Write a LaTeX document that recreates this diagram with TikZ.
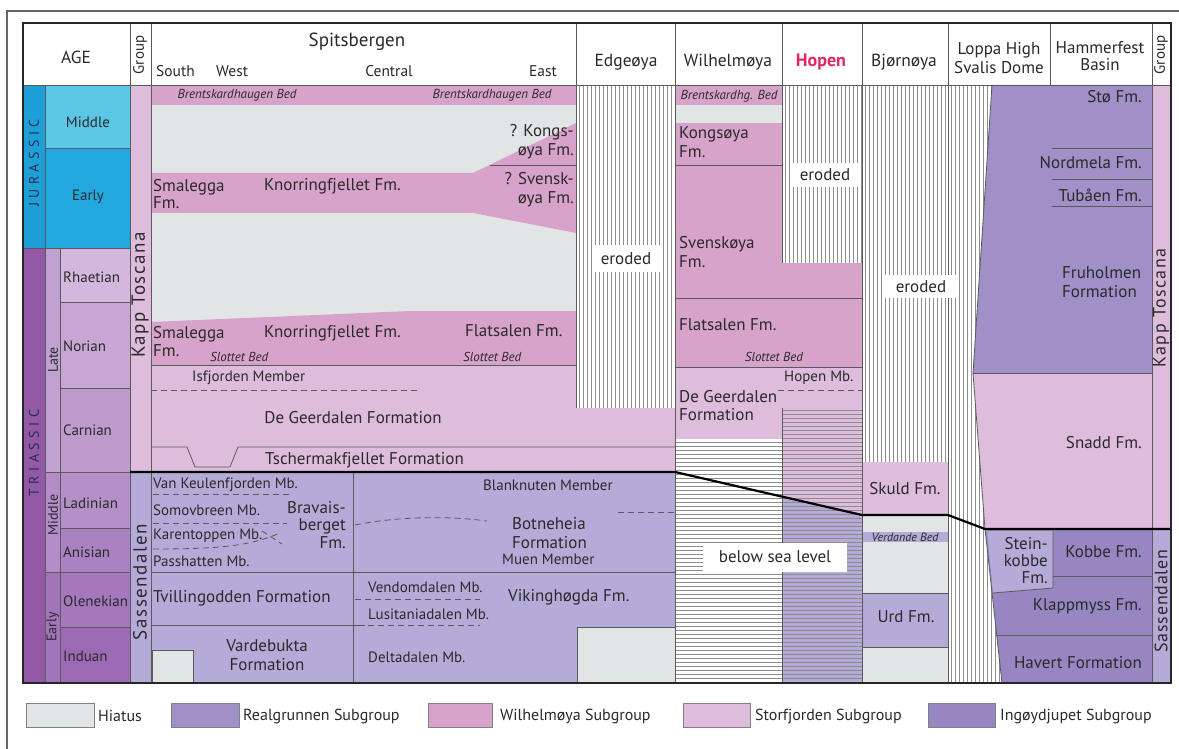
\documentclass[tikz,border=0pt]{standalone}
\usepackage{fontspec}
\setmainfont{PT Sans}
\definecolor{hiatus}{HTML}{E2E5E5}
\definecolor{realg}{HTML}{A18FC8}
\definecolor{wilh}{HTML}{D8A3CA}
\definecolor{storf}{HTML}{DEBCDC}
\definecolor{ingoy}{HTML}{9886C3}
\definecolor{sass}{HTML}{B5ABD8}
\definecolor{jurP}{HTML}{1E9FD7}
\definecolor{jurM}{HTML}{5CC6E6}
\definecolor{jurE}{HTML}{22A8DF}
\definecolor{triP}{HTML}{9358A6}
\definecolor{lateE}{HTML}{C0A1D1}
\definecolor{midE}{HTML}{B48CC7}
\definecolor{earlyE}{HTML}{A274BA}
\definecolor{rhae}{HTML}{D4B7DD}
\definecolor{nori}{HTML}{C7A6D4}
\definecolor{carn}{HTML}{BE9ACD}
\definecolor{ladi}{HTML}{B590C8}
\definecolor{anis}{HTML}{AB82C1}
\definecolor{olen}{HTML}{A577BD}
\definecolor{indu}{HTML}{9C69B4}
\definecolor{txt}{HTML}{2A2A2A}
\definecolor{perT}{HTML}{22304F}
\definecolor{lnc}{HTML}{5A5A5A}
\definecolor{hopenred}{HTML}{E3265F}
\definecolor{stripe}{HTML}{8C8C8C}
\tikzset{
 fm/.style={font=\fontsize{17}{19}\selectfont, text=txt, inner sep=0pt},
 mb/.style={font=\fontsize{15}{17}\selectfont, text=txt, inner sep=0pt},
 st/.style={font=\fontsize{15}{17}\selectfont, text=txt, inner sep=0pt},
 bed/.style={font=\fontsize{13}{15}\selectfont\itshape, text=txt, inner sep=0pt},
 hd/.style={font=\fontsize{17.5}{20}\selectfont, text=txt, inner sep=0pt},
 sub/.style={font=\fontsize{15.5}{18}\selectfont, text=txt, inner sep=0pt},
 grp/.style={font=\fontsize{19}{21}\selectfont\addfontfeature{LetterSpace=8}, text=txt, inner sep=0pt, rotate=90},
 lg/.style={font=\fontsize{16}{18}\selectfont, text=txt, inner sep=0pt, anchor=west},
 ln/.style={draw=lnc, line width=0.8pt},
 dsh/.style={draw=lnc, line width=0.8pt, dash pattern=on 6pt off 4pt},
 bnd/.style={draw=black, line width=2.2pt},
 vs/.style={draw=stripe, line width=0.9pt},
 wbox/.style={fill=white, draw=none},
 lgbox/.style={draw=gray, line width=0.8pt},
}
\begin{document}
\begin{tikzpicture}[x=1pt,y=-1pt]
\useasboundingbox (0,0) rectangle (1179,749);
\fill[white] (0,0) rectangle (1179,749);
\begin{scope}
\clip (0,0) rectangle (1179,749);
\draw[gray!80!black, line width=1.3pt] (7,11) rectangle (1190,760);
\end{scope}

% ---------- AGE column ----------
\fill[jurP] (23,85) rectangle (45,248);
\fill[jurM] (45,85) rectangle (130,148);
\fill[jurE] (45,148) rectangle (130,248);
\fill[triP] (23,248) rectangle (45,683);
\fill[lateE] (45,248) rectangle (60,472);
\fill[midE] (45,472) rectangle (60,572);
\fill[earlyE] (45,572) rectangle (60,683);
\fill[rhae] (60,248) rectangle (130,302);
\fill[nori] (60,302) rectangle (130,388);
\fill[carn] (60,388) rectangle (130,472);
\fill[ladi] (60,472) rectangle (130,528);
\fill[anis] (60,528) rectangle (130,572);
\fill[olen] (60,572) rectangle (130,627);
\fill[indu] (60,627) rectangle (130,683);
\fill[storf] (130,85) rectangle (151,472);
\fill[sass] (130,472) rectangle (151,683);

% ---------- Spitsbergen ----------
\fill[hiatus] (151,85) rectangle (576,365);
\fill[wilh] (151,85) rectangle (576,105);
\fill[wilh] (151,173) -- (473,173) -- (576,123) -- (576,233) -- (473,213) -- (151,213) -- cycle;
\fill[wilh] (151,322) -- (410,311) -- (576,311) -- (576,365) -- (151,365) -- cycle;
\fill[storf] (151,365) rectangle (675,472);
\fill[sass] (151,472) rectangle (675,683);
\fill[hiatus] (152,650) rectangle (193,683);
\draw[ln] (152,683) -- (152,650) -- (193,650) -- (193,683);
\fill[hiatus] (577,627) rectangle (675,683);
\draw[ln] (577,683) -- (577,627) -- (675,627);

% ---------- Edgeoya ----------
\fill[white] (576,85) rectangle (675,408);
\foreach \x in {579,583,...,675} \draw[vs] (\x,85) -- (\x,408);

% ---------- Wilhelmoya / Hopen ----------
\fill[wilh] (675,85) rectangle (782,105);
\fill[hiatus] (675,105) rectangle (782,123);
\fill[wilh] (675,123) rectangle (862,367);
\fill[storf] (675,367) rectangle (862,439);
\fill[white] (675,439) rectangle (782,683);
\fill[white] (782,85) rectangle (862,263);
\foreach \x in {785,789,...,862} \draw[vs] (\x,85) -- (\x,263);
\fill[storf] (782,408) -- (862,408) -- (862,515) -- (782,496.6) -- cycle;
\fill[sass] (782,496.6) -- (862,515) -- (862,683) -- (782,683) -- cycle;
\foreach \y in {442,446,...,683} \draw[vs] (675,\y) -- (782,\y);
\foreach \y in {410,414,...,683} \draw[vs] (782,\y) -- (862,\y);

% ---------- Bjornoya ----------
\fill[white] (862,85) rectangle (948,462);
\foreach \x in {865,869,...,948} \draw[vs] (\x,85) -- (\x,462);
\fill[storf] (862,462) rectangle (948,515);
\fill[hiatus] (862,515) rectangle (948,683);
\fill[sass] (862,532) rectangle (948,542);
\fill[sass] (862,593) rectangle (948,647);
\draw[ln] (862,593) -- (948,593);
\draw[ln] (862,647) -- (948,647);

% ---------- Loppa High ----------
\begin{scope}
\clip (948,85) -- (992,85) -- (973,373) -- (985,529) -- (1002,683) -- (948,683) -- cycle;
\fill[white] (940,80) rectangle (1010,690);
\foreach \x in {951,955,...,1007} \draw[vs] (\x,85) -- (\x,683);
\end{scope}

% ---------- Hammerfest ----------
\fill[realg] (992,85) -- (1152,85) -- (1152,373) -- (973,373) -- cycle;
\fill[storf] (973,373) -- (1152,373) -- (1152,529) -- (985,529) -- cycle;
\fill[ingoy] (985,529) -- (1152,529) -- (1152,683) -- (1002,683) -- cycle;
\fill[sass] (987,531) -- (1053,531) -- (1053,588) -- (993,593) -- cycle;
\draw[ln] (993,593) -- (1053,588) -- (1053,531);
\draw[ln] (992,85) -- (973,373) -- (985,529) -- (1002,683);
\draw[ln] (1052,148) -- (1152,148);
\draw[ln] (1052,179) -- (1152,179);
\draw[ln] (1052,206) -- (1152,206);
\draw[ln] (973,373) -- (1152,373);
\draw[ln] (1053,576) -- (1152,576);
\draw[ln] (996,635) -- (1152,635);
\fill[storf] (1152,85) rectangle (1171,529);
\fill[sass] (1152,529) rectangle (1171,683);

% ---------- lines: age ----------
\draw[ln] (45,85) -- (45,683);
\draw[ln] (60,248) -- (60,683);
\draw[ln] (130,23) -- (130,683);
\draw[ln] (151,23) -- (151,683);
\draw[ln] (45,148) -- (130,148);
\draw[ln] (23,248) -- (130,248);
\draw[ln] (60,302) -- (130,302);
\draw[ln] (60,388) -- (130,388);
\draw[ln] (45,472) -- (130,472);
\draw[ln] (60,528) -- (130,528);
\draw[ln] (45,572) -- (130,572);
\draw[ln] (60,627) -- (130,627);

% ---------- lines: columns ----------
\draw[ln] (23,85) -- (1171,85);
\draw[ln] (576,23) -- (576,408);
\draw[ln] (675,23) -- (675,683);
\draw[ln] (782,23) -- (782,263);
\draw[ln] (782,408) -- (782,683);
\draw[ln] (862,23) -- (862,683);
\draw[ln] (948,23) -- (948,683);
\draw[ln] (1050,23) -- (1050,85);
\draw[ln] (1152,23) -- (1152,683);

% ---------- lines: Spitsbergen ----------
\draw[ln] (490,165) -- (576,165);
\draw[ln] (151,365) -- (576,365);
\draw[dsh] (151,390) -- (420,390);
\draw[ln] (151,447) -- (187,447) -- (195,467) -- (230,467) -- (238,447) -- (675,447);
\draw[dsh] (153,494) -- (290,494);
\draw[dsh] (153,523) -- (287,523);
\draw[dsh] (153,549) .. controls (220,549) and (250,546) .. (280,533);
\draw[dsh] (262,531) -- (282,544);
\draw[ln] (353,472) -- (353,683);
\draw[dsh] (355,525) .. controls (400,516) and (450,516) .. (487,521);
\draw[dsh] (618,512) -- (675,512);
\draw[ln] (151,572) -- (675,572);
\draw[dsh] (355,599) -- (480,599);
\draw[ln] (151,625) -- (365,625);
\draw[dsh] (368,625) -- (480,625);

% ---------- lines: Wilhelmoya ----------
\draw[ln] (675,165) -- (782,165);
\draw[ln] (675,298) -- (862,298);
\draw[ln] (675,367) -- (862,367);
\draw[dsh] (778,390) -- (862,390);

% ---------- thick boundary ----------
\draw[bnd] (130,472) -- (675,472) -- (862,515) -- (948,515) -- (985,529) -- (1171,529);

% ---------- white label boxes ----------
\fill[wbox] (593,245) rectangle (660,272);
\fill[wbox] (792,163) rectangle (858,187);
\fill[wbox] (885,275) rectangle (958,298);
\fill[wbox] (703,543) rectangle (847,572);

% ---------- frame ----------
\draw[line width=2.5pt, black!85] (23,23) rectangle (1171,683);

% ---------- header text ----------
\node[hd] (hAge) at (76,57) {AGE};
\node[hd, font=\fontsize{15}{17}\selectfont, rotate=90] (hGrpL) at (140,55) {Group};
\node[hd, font=\fontsize{19}{22}\selectfont] (hSpits) at (357,42) {Spitsbergen};
\node[sub, anchor=west] (hSouth) at (156,71) {South};
\node[sub, anchor=west] (hWest) at (216,71) {West};
\node[sub] (hCentral) at (389,71) {Central};
\node[sub, anchor=east] (hEast) at (557,71) {East};
\node[hd] (hEdge) at (626,62) {Edgeøya};
\node[hd] (hWilh) at (728,62) {Wilhelmøya};
\node[hd, text=hopenred, font=\fontsize{18}{20}\selectfont\bfseries] (hHopen) at (821,62) {Hopen};
\node[hd] (hBjorn) at (904,62) {Bjørnøya};
\node[hd, align=center, font=\fontsize{17}{19.5}\selectfont] (hLoppa) at (999,58) {Loppa High\\Svalis Dome};
\node[hd, align=center, font=\fontsize{17}{17.5}\selectfont] (hHammer) at (1100,56) {Hammerfest\\Basin};
\node[hd, font=\fontsize{15}{17}\selectfont, rotate=90] (hGrpR) at (1161,55) {Group};

% ---------- age text ----------
\node[hd, text=perT, font=\fontsize{14}{16}\selectfont\addfontfeature{LetterSpace=32}, rotate=90] (tJur) at (34,163) {JURASSIC};
\node[hd, text=perT, font=\fontsize{14}{16}\selectfont\addfontfeature{LetterSpace=32}, rotate=90] (tTri) at (34,453) {TRIASSIC};
\node[st] (tJM) at (88,122) {Middle};
\node[st] (tJE) at (88,197) {Early};
\node[st, font=\fontsize{14}{16}\selectfont, rotate=90] (tLate) at (53,360) {Late};
\node[st, font=\fontsize{14}{16}\selectfont, rotate=90] (tMid) at (53,515) {Middle};
\node[st, font=\fontsize{14}{16}\selectfont, rotate=90] (tEar) at (53,627) {Early};
\node[st, anchor=west] (tRh) at (63,277) {Rhaetian};
\node[st, anchor=west] (tNo) at (63,346) {Norian};
\node[st, anchor=west] (tCa) at (63,430) {Carnian};
\node[st, anchor=west] (tLa) at (63,503) {Ladinian};
\node[st, anchor=west] (tAn) at (63,552) {Anisian};
\node[st, anchor=west] (tOl) at (63,601) {Olenekian};
\node[st, anchor=west] (tIn) at (63,656) {Induan};
\node[grp] (gKT) at (140,295) {Kapp Toscana};
\node[grp] (gSD) at (140,582) {Sassendalen};
\node[grp, font=\fontsize{18}{20}\selectfont\addfontfeature{LetterSpace=8}] (gKT2) at (1161,308) {Kapp Toscana};
\node[grp, font=\fontsize{18}{20}\selectfont\addfontfeature{LetterSpace=4}] (gSD2) at (1161,601) {Sassendalen};

% ---------- Spitsbergen text ----------
\node[bed] (sBr1) at (237,95) {Brentskardhaugen Bed};
\node[bed] (sBr2) at (492,95) {Brentskardhaugen Bed};
\node[fm, anchor=west, align=left, font=\fontsize{17}{17}\selectfont] (sSm1) at (153,194) {Smalegga\\Fm.};
\node[fm, anchor=west] (sKn1) at (264,186) {Knorringfjellet Fm.};
\node[fm, anchor=east, align=right] (sKo) at (574,142) {? Kongs-\\øya Fm.};
\node[fm, anchor=east, align=right] (sSv) at (574,190) {? Svensk-\\øya Fm.};
\node[fm, anchor=west, align=left, font=\fontsize{17}{18}\selectfont] (sSm2) at (153,342) {Smalegga\\Fm.};
\node[fm, anchor=west] (sKn2) at (264,333) {Knorringfjellet Fm.};
\node[fm, anchor=west] (sFl) at (465,331) {Flatsalen Fm.};
\node[bed, anchor=west] (sSl1) at (210,357) {Slottet Bed};
\node[bed, anchor=west] (sSl2) at (463,357) {Slottet Bed};
\node[mb, anchor=west] (sIs) at (192,378) {Isfjorden Member};
\node[fm] (sDG) at (353,418) {De Geerdalen Formation};
\node[fm, anchor=west] (sTs) at (265,460) {Tschermakfjellet Formation};
\node[mb, anchor=west] (sVK) at (153,485) {Van Keulenfjorden Mb.};
\node[mb, anchor=west] (sSo) at (153,510) {Somovbreen Mb.};
\node[fm, anchor=east, align=right, font=\fontsize{17}{17.5}\selectfont] (sBv) at (346,525) {Bravais-\\berget\\Fm.};
\node[mb, anchor=west] (sKa) at (153,536) {Karentoppen Mb.};
\node[mb, anchor=west] (sPa) at (153,561) {Passhatten Mb.};
\node[fm, anchor=west] (sTv) at (153,598) {Tvillingodden Formation};
\node[fm, align=center, font=\fontsize{17}{19}\selectfont] (sVa) at (267,655) {Vardebukta\\Formation};
\node[mb, anchor=west] (sBl) at (483,485) {Blanknuten Member};
\node[fm, anchor=west, align=left, font=\fontsize{17}{19}\selectfont] (sBo) at (512,533) {Botneheia\\Formation};
\node[mb, anchor=west] (sMu) at (502,559) {Muen Member};
\node[mb, anchor=west] (sVe) at (368,587) {Vendomdalen Mb.};
\node[mb, anchor=west] (sLu) at (368,614) {Lusitaniadalen Mb.};
\node[fm, anchor=west] (sVi) at (508,597) {Vikinghøgda Fm.};
\node[mb, anchor=west] (sDe) at (368,657) {Deltadalen Mb.};

% ---------- Other columns text ----------
\node[fm] (eEr) at (626,259) {eroded};
\node[bed] (wBr) at (729,96) {Brentskardhg. Bed};
\node[fm, anchor=west, align=left, font=\fontsize{17}{19}\selectfont] (wKo) at (679,142) {Kongsøya\\Fm.};
\node[fm, anchor=west, align=left, font=\fontsize{17}{19}\selectfont] (wSv) at (679,252) {Svenskøya\\Fm.};
\node[fm, anchor=west] (wFl) at (679,325) {Flatsalen Fm.};
\node[bed] (wSl) at (774,357) {Slottet Bed};
\node[mb, anchor=west] (hMb) at (784,378) {Hopen Mb.};
\node[fm, anchor=west, align=left, font=\fontsize{17}{18}\selectfont] (wDG) at (679,406) {De Geerdalen\\Formation};
\node[fm] (hEr) at (825,175) {eroded};
\node[fm] (wBs) at (775,557) {below sea level};
\node[fm] (bEr) at (921,287) {eroded};
\node[fm] (bSk) at (905,489) {Skuld Fm.};
\node[bed, font=\fontsize{12}{14}\selectfont\itshape] (bVe) at (905,537) {Verdande Bed};
\node[fm] (bUr) at (906,617) {Urd Fm.};
\node[fm, anchor=east] (fSt) at (1142,97) {Stø Fm.};
\node[fm, anchor=east] (fNo) at (1142,163) {Nordmela Fm.};
\node[fm, anchor=east] (fTu) at (1142,195) {Tubåen Fm.};
\node[fm, anchor=west, align=left, font=\fontsize{17}{19}\selectfont] (fFr) at (1062,282) {Fruholmen\\Formation};
\node[fm, anchor=east] (fSn) at (1142,443) {Snadd Fm.};
\node[fm, anchor=east, align=right, font=\fontsize{17}{17}\selectfont] (fStk) at (1048,561) {Stein-\\kobbe\\Fm.};
\node[fm, anchor=east] (fKo) at (1142,552) {Kobbe Fm.};
\node[fm, anchor=east] (fKl) at (1142,606) {Klappmyss Fm.};
\node[fm, anchor=east] (fHa) at (1142,663) {Havert Formation};

% ---------- legend ----------
\draw[lgbox, fill=hiatus] (26,703) rectangle (94,727);
\node[lg] (lHi) at (98,716) {Hiatus};
\draw[lgbox, fill=realg] (171,703) rectangle (239,727);
\node[lg] (lRe) at (243,716) {Realgrunnen Subgroup};
\draw[lgbox, fill=wilh] (428,703) rectangle (492,727);
\node[lg] (lWi) at (500,716) {Wilhelmøya Subgroup};
\draw[lgbox, fill=storf] (683,703) rectangle (750,727);
\node[lg] (lSt) at (755,716) {Storfjorden Subgroup};
\draw[lgbox, fill=ingoy] (928,703) rectangle (995,727);
\node[lg] (lIn) at (1000,716) {Ingøydjupet Subgroup};
\end{tikzpicture}
\end{document}
